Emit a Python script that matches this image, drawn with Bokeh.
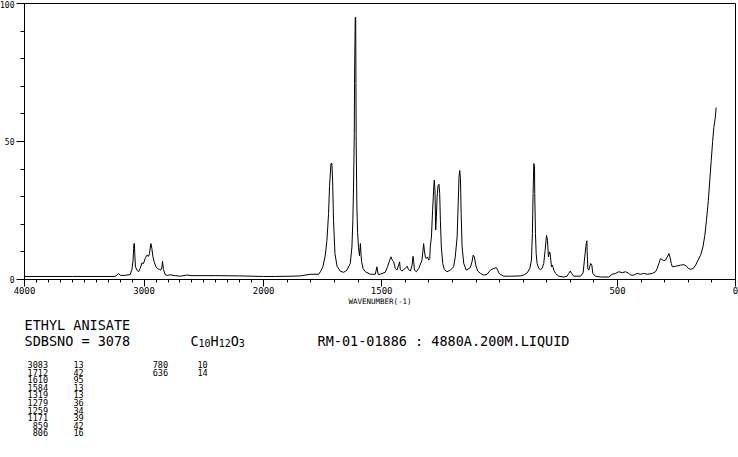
from bokeh.plotting import figure
from bokeh.layouts import column
from bokeh.models import Range1d, FixedTicker
from bokeh.core.properties import value
from bokeh.embed import file_html
from bokeh.resources import INLINE

# ---------------- data ----------------
WAVENUMBER = [
    4000, 3600, 3245, 3232, 3214, 3200, 3160, 3116, 3102, 3092, 3088, 3085, 3081, 3077, 3072,
    3060, 3047, 3033, 3018, 3005, 2991, 2977, 2963, 2955, 2943, 2935, 2926, 2916, 2901, 2888,
    2871, 2860, 2851, 2846, 2838, 2824, 2807, 2782, 2740, 2698, 2642, 2600, 2400, 2200, 2000,
    1950, 1880, 1845, 1803, 1767, 1760, 1749, 1739, 1732, 1725, 1721, 1715, 1711, 1708, 1704,
    1698, 1689, 1675, 1661, 1647, 1633, 1626, 1622, 1619, 1616, 1615, 1613, 1612, 1610, 1609,
    1608, 1605, 1602, 1598, 1594, 1590, 1588, 1585, 1579, 1569, 1548, 1527, 1520, 1515, 1506,
    1485, 1475, 1466, 1460, 1455, 1449, 1442, 1435, 1428, 1424, 1421, 1414, 1407, 1400, 1392,
    1386, 1378, 1371, 1367, 1364, 1361, 1353, 1343, 1329, 1322, 1319, 1315, 1311, 1305, 1301,
    1296, 1294, 1289, 1284, 1279, 1277, 1274, 1271, 1268, 1265, 1261, 1257, 1254, 1251, 1247,
    1241, 1234, 1223, 1209, 1195, 1188, 1180, 1176, 1172, 1169, 1166, 1163, 1159, 1152, 1141,
    1124, 1117, 1112, 1107, 1101, 1093, 1081, 1067, 1053, 1039, 1025, 1014, 1008, 1002, 997,
    982, 954, 912, 898, 883, 872, 865, 861, 858, 855, 852, 851, 848, 845, 841,
    834, 827, 820, 813, 807, 801, 797, 793, 789, 786, 783, 780, 776, 770, 763,
    749, 728, 714, 707, 700, 695, 686, 657, 646, 639, 633, 630, 629, 626, 622,
    618, 614, 609, 605, 594, 572, 537, 523, 509, 495, 480, 466, 452, 445, 431,
    417, 403, 389, 374, 353, 339, 332, 325, 318, 311, 304, 297, 289, 282, 278,
    272, 268, 254, 233, 219, 207, 200, 190, 179, 169, 160, 148, 138, 130, 123,
    115, 109, 103, 97, 92, 86, 82,
]
INTENSITY = [
    1.1, 1.1, 1.1, 1.4, 2.2, 1.5, 1.5, 1.8, 3.6, 7.0, 11.2, 13.0, 13.0, 8.2, 4.6,
    3.4, 2.8, 4.0, 6.0, 5.8, 7.6, 8.8, 8.4, 9.4, 13.0, 11.2, 8.2, 6.4, 4.6, 4.0,
    3.6, 3.4, 4.5, 6.6, 3.6, 1.8, 1.5, 1.7, 1.4, 1.2, 1.6, 1.4, 1.4, 1.3, 1.1,
    1.1, 1.2, 1.3, 1.9, 1.9, 2.8, 4.6, 8.8, 14.2, 23.9, 33.6, 42.0, 42.0, 36.0, 21.5,
    9.4, 4.8, 3.0, 2.6, 3.4, 5.8, 11.8, 21.5, 34.6, 52.9, 71.0, 86.7, 95.0, 95.0, 71.0,
    50.0, 26.3, 17.0, 11.6, 8.6, 13.0, 9.7, 6.5, 4.0, 2.8, 1.9, 1.9, 4.6, 1.9, 1.9,
    2.6, 4.6, 7.0, 8.2, 7.0, 6.4, 4.0, 3.4, 5.2, 6.4, 3.6, 3.1, 3.6, 4.0, 4.8,
    3.6, 3.1, 5.2, 8.4, 6.4, 3.4, 2.8, 4.0, 7.0, 13.0, 10.6, 8.2, 7.6, 8.2, 7.0,
    7.6, 11.8, 15.4, 25.1, 33.6, 36.0, 32.4, 17.9, 22.7, 29.9, 34.0, 34.5, 31.2, 21.5, 11.8,
    5.8, 3.6, 2.8, 3.4, 4.6, 8.2, 15.4, 26.3, 37.2, 39.5, 36.6, 23.9, 11.8, 5.8, 3.4,
    4.3, 6.4, 8.8, 8.2, 5.2, 3.1, 2.2, 1.6, 1.9, 3.4, 4.0, 4.3, 3.4, 2.2, 1.9,
    1.2, 1.2, 1.3, 1.6, 2.4, 4.0, 7.0, 16.7, 31.2, 42.0, 40.8, 31.2, 16.7, 9.4, 5.8,
    4.0, 3.6, 4.0, 5.8, 10.6, 16.0, 14.2, 8.2, 10.0, 9.6, 7.0, 4.6, 5.2, 3.4, 2.2,
    1.2, 0.9, 1.2, 2.2, 3.1, 2.2, 1.2, 1.2, 2.4, 8.2, 13.0, 14.0, 10.6, 4.0, 3.4,
    4.6, 5.8, 5.2, 2.2, 1.2, 0.9, 0.9, 1.9, 2.2, 2.8, 2.5, 2.8, 2.2, 1.6, 1.6,
    2.2, 1.9, 2.2, 1.9, 2.2, 2.8, 4.0, 5.8, 7.6, 7.2, 6.8, 7.0, 8.2, 9.4, 8.2,
    5.8, 4.6, 4.8, 5.2, 5.4, 4.8, 4.0, 3.7, 4.0, 5.2, 6.8, 8.8, 11.8, 16.0, 21.5,
    28.7, 36.0, 43.0, 50.0, 55.0, 58.5, 62.3,
]

PEAK_WN = [3083, 1712, 1610, 1584, 1319, 1279, 1259, 1171, 859, 806, 780, 636]
PEAK_INT = [13, 42, 95, 13, 13, 36, 34, 39, 42, 16, 10, 14]

X_LABELED = [4000, 3000, 2000, 1500, 500, 0]
X_MINOR = list(range(3900, 2000, -100)) + list(range(1900, 0, -100))
Y_LABELED = [0, 50, 100]
Y_MINOR = [10, 20, 30, 40, 60, 70, 80, 90]

COMPOUND = "ETHYL ANISATE"
SDBS_LINE = "SDBSNO = 3078"
FORMULA = [("C", False), ("10", True), ("H", False), ("12", True), ("O", False), ("3", True)]
CONDITIONS = "RM-01-01886 : 4880A.200M.LIQUID"

# ---------------- axis: 4000-2000 drawn at about half scale ----------------
HIGH_SCALE = 0.507


def u(wn):
    return wn if wn <= 2000 else 2000 + (wn - 2000) * HIGH_SCALE


U0 = u(4000)
W, H = 738, 457
PAD = 8                          # extra left room, hidden by shifting the layout left
FRAME_L, FRAME_R, FRAME_T, FRAME_B = 24, 735, 3, 279
TOP_H = 318                      # height of the spectrum figure
BOT_H = H - TOP_H                # height of the text block below it
TEXT_DY = -4.5                   # baseline correction for the text block
MONO = "DejaVu Sans Mono"

p = figure(width=W + PAD, height=TOP_H, output_backend="svg", toolbar_location=None,
           x_range=Range1d(U0, 0), y_range=Range1d(0, 100),
           min_border_left=FRAME_L + PAD, min_border_right=W - FRAME_R,
           min_border_top=FRAME_T, min_border_bottom=TOP_H - FRAME_B)
p.background_fill_color = "white"
p.border_fill_color = "white"
p.outline_line_color = "black"
p.outline_line_width = 1
p.grid.visible = False

p.line([u(w) for w in WAVENUMBER], INTENSITY, line_color="black", line_width=1)

xa = p.xaxis[0]
xa.ticker = FixedTicker(ticks=[float(u(t)) for t in X_LABELED],
                        minor_ticks=[float(u(t)) for t in X_MINOR])
xa.major_label_overrides = {float(u(t)): str(t) for t in X_LABELED}
xa.major_tick_out = 7
xa.major_tick_in = 0
xa.minor_tick_out = 3
xa.minor_tick_in = 0
xa.major_label_standoff = 0
xa.major_label_text_font = MONO
xa.major_label_text_font_size = "9px"
xa.major_label_text_color = "black"
xa.axis_line_color = "black"
xa.major_tick_line_color = "black"
xa.minor_tick_line_color = "black"
xa.axis_label = "WAVENUMBER(-1)"
xa.axis_label_text_font = MONO
xa.axis_label_text_font_size = "7.5px"
xa.axis_label_text_font_style = "normal"
xa.axis_label_text_color = "black"
xa.axis_label_standoff = 0

ya = p.yaxis[0]
ya.ticker = FixedTicker(ticks=Y_LABELED, minor_ticks=Y_MINOR)
ya.major_tick_out = 8
ya.major_tick_in = 0
ya.minor_tick_out = 4
ya.minor_tick_in = 0
ya.major_label_standoff = 2
ya.major_label_text_font = MONO
ya.major_label_text_font_size = "8px"
ya.major_label_text_color = "black"
ya.axis_line_color = "black"
ya.major_tick_line_color = "black"
ya.minor_tick_line_color = "black"

# ---------------- text block under the spectrum (page-pixel coordinates) ----------------
t = figure(width=W + PAD, height=BOT_H, output_backend="svg", toolbar_location=None,
           x_range=Range1d(FRAME_L, FRAME_R), y_range=Range1d(H, TOP_H),
           x_axis_location=None, y_axis_location=None,
           min_border_left=FRAME_L + PAD, min_border_right=W - FRAME_R,
           min_border_top=0, min_border_bottom=0)
t.background_fill_color = "white"
t.border_fill_color = "white"
t.outline_line_color = None
t.grid.visible = False


def add_texts(xs, ys, texts, size, align="left"):
    t.text(x=xs, y=[y + TEXT_DY for y in ys], text=texts, text_font=value(MONO),
           text_font_size=value(size), text_color="black", text_align=align,
           text_baseline="alphabetic")


add_texts([24, 24, 317], [328.5, 344.5, 344.5], [COMPOUND, SDBS_LINE, CONDITIONS], "13.5px")

big_x, big_t, sub_x, sub_t = [], [], [], []
fx = 190.0
for part, sub in FORMULA:
    if sub:
        sub_x.append(fx)
        sub_t.append(part)
        fx += 6.0 * len(part)
    else:
        big_x.append(fx)
        big_t.append(part)
        fx += 8.1 * len(part)
add_texts(big_x, [344.5] * len(big_x), big_t, "13.5px")
add_texts(sub_x, [346.5] * len(sub_x), sub_t, "10px")

ROWS = 10
wn_x, wn_y, wn_t, in_x, in_y, in_t = [], [], [], [], [], []
for i, (wn, inten) in enumerate(zip(PEAK_WN, PEAK_INT)):
    col, row = divmod(i, ROWS)
    yb = 368.5 + 7.6 * row
    wn_x.append(47.5 + 120 * col)
    wn_y.append(yb)
    wn_t.append(str(wn))
    in_x.append(73 + 124 * col)
    in_y.append(yb)
    in_t.append(str(inten))
add_texts(wn_x, wn_y, wn_t, "8.5px", align="right")
add_texts(in_x, in_y, in_t, "8.5px")

layout = column(p, t, spacing=0)
layout.styles = {"position": "absolute", "left": f"{-PAD}px", "top": "0px"}

open("out.html", "w").write(file_html(layout, INLINE))
